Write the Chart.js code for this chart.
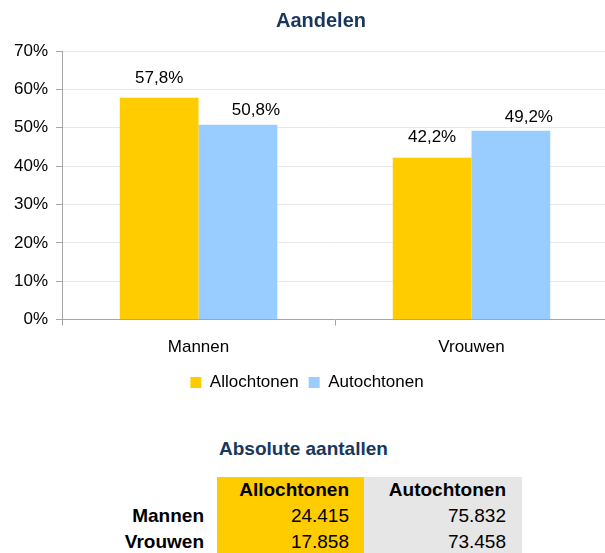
<!DOCTYPE html>
<html>
<head>
<meta charset="utf-8">
<script src="https://cdn.jsdelivr.net/npm/chart.js@4.4.1/dist/chart.umd.min.js"></script>
<style>
  html, body { margin: 0; padding: 0; overflow: hidden; background: #fff; width: 605px; height: 553px; }
  #myChart { position: absolute; left: 0; top: 0; }
  #tableTitle {
    position: absolute; left: 219px; top: 438px; line-height: 22px;
    font: bold 19px "Liberation Sans", Arial, sans-serif; color: #17375e; white-space: nowrap;
  }
  #absTable {
    position: absolute; left: 100px; top: 477px;
    border-collapse: collapse; border-spacing: 0;
    font: 19px "Liberation Sans", Arial, sans-serif; color: #000;
  }
  #absTable td { height: 26px; padding: 0; text-align: right; white-space: nowrap; line-height: 26px; }
  #absTable td.lbl { width: 104px; padding-right: 13px; font-weight: bold; }
  #absTable td.c0 { width: 132px; padding-right: 15px; background: #ffcc00; }
  #absTable td.c1 { width: 142px; padding-right: 16px; background: #e6e6e6; }
  #absTable tr.head td { font-weight: bold; }
</style>
</head>
<body>
<canvas id="myChart" width="608" height="401"></canvas>
<div id="tableTitle"></div>
<table id="absTable"></table>
<script>
// data
const categories = ['Mannen', 'Vrouwen'];
const seriesNames = ['Allochtonen', 'Autochtonen'];
const allochtonenPct = [57.8, 42.2];
const autochtonenPct = [50.8, 49.2];
const yMax = 70;
const yStep = 10;

const tableTitle = 'Absolute aantallen';
const allochtonenAbs = [24415, 17858];
const autochtonenAbs = [75832, 73458];

const yellow = '#ffcc00';
const blue = '#99ccff';
const fontFamily = '"Liberation Sans", Arial, sans-serif';

function formatPct(v) {
    return v.toFixed(1).replace('.', ',') + '%';
}

function formatThousands(n) {
    return String(n).replace(/\B(?=(\d{3})+(?!\d))/g, '.');
}

// labels above the bars
const barLabels = {
    id: 'barLabels',
    afterLayout(chart) {
        // title sits a bit right of the legend centre in the original
        chart.titleBlock.left += 28;
    },
    afterDatasetsDraw(chart) {
        const ctx = chart.ctx;
        ctx.save();
        ctx.font = '17px ' + fontFamily;
        ctx.fillStyle = '#000';
        ctx.textAlign = 'center';
        ctx.textBaseline = 'middle';
        chart.data.datasets.forEach((ds, i) => {
            chart.getDatasetMeta(i).data.forEach((bar, j) => {
                ctx.fillText(formatPct(ds.data[j]), bar.x + ds.labelDx, bar.y + ds.labelDy);
            });
        });
        ctx.restore();
    }
};

const configuration = {
    type: 'bar',
    data: {
        labels: categories,
        datasets: [{
            label: seriesNames[0],
            data: allochtonenPct,
            backgroundColor: yellow,
            labelDx: 0,
            labelDy: -20,
        }, {
            label: seriesNames[1],
            data: autochtonenPct,
            backgroundColor: blue,
            labelDx: 18,
            labelDy: -14,
        }],
    },
    options: {
        responsive: false,
        animation: false,
        layout: { padding: { left: 6, right: 0, top: 0, bottom: 0 } },
        datasets: {
            bar: { barPercentage: 1, categoryPercentage: 0.577 }
        },
        scales: {
            x: {
                afterFit: (scale) => { scale.height -= 6; },
                grid: {
                    drawOnChartArea: false,
                    drawTicks: true,
                    tickLength: 6,
                    tickColor: '#a6a6a6',
                },
                border: { color: '#a6a6a6', width: 1 },
                ticks: {
                    color: '#000',
                    padding: 12,
                    font: { family: fontFamily, size: 17 },
                },
            },
            y: {
                min: 0,
                max: yMax,
                grid: {
                    color: '#e8e8e8',
                    tickLength: 6,
                    tickColor: '#a6a6a6',
                },
                border: { color: '#a6a6a6', width: 1 },
                ticks: {
                    stepSize: yStep,
                    color: '#000',
                    padding: 8,
                    font: { family: fontFamily, size: 17 },
                    callback: (value) => value + '%',
                },
            },
        },
        plugins: {
            title: {
                display: true,
                text: 'Aandelen',
                color: '#17375e',
                font: { family: fontFamily, size: 20, weight: 'bold' },
                padding: { top: 9, bottom: 18 },
            },
            legend: {
                position: 'bottom',
                labels: {
                    boxWidth: 11,
                    boxHeight: 11,
                    color: '#000',
                    padding: 10,
                    font: { family: fontFamily, size: 17 },
                },
            },
            tooltip: { enabled: false },
        },
    },
    plugins: [barLabels],
};

new Chart(document.getElementById('myChart'), configuration);

// table with absolute numbers
document.getElementById('tableTitle').textContent = tableTitle;
const table = document.getElementById('absTable');
const head = table.insertRow();
head.className = 'head';
head.insertCell().className = 'lbl';
seriesNames.forEach((name, i) => {
    const cell = head.insertCell();
    cell.className = 'c' + i;
    cell.textContent = name;
});
categories.forEach((cat, j) => {
    const row = table.insertRow();
    const lbl = row.insertCell();
    lbl.className = 'lbl';
    lbl.textContent = cat;
    [allochtonenAbs, autochtonenAbs].forEach((arr, i) => {
        const cell = row.insertCell();
        cell.className = 'c' + i;
        cell.textContent = formatThousands(arr[j]);
    });
});
</script>
</body>
</html>
